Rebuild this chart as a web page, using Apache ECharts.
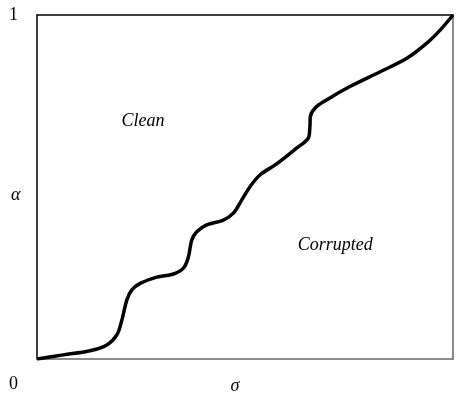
<!DOCTYPE html>
<html><head><meta charset="utf-8">
<script src="https://cdn.jsdelivr.net/npm/echarts@6/dist/echarts.min.js"></script>
<style>html,body{margin:0;padding:0;background:#fff}#c{width:457px;height:395px}</style>
</head><body><div id="c"></div>
<script>
var sigma = [0, 0.063, 0.127, 0.168, 0.192, 0.204, 0.216, 0.228, 0.248, 0.288, 0.328, 0.352, 0.364, 0.372, 0.384, 0.408, 0.448, 0.472, 0.492, 0.512, 0.536, 0.576, 0.624, 0.652, 0.656, 0.657, 0.668, 0.696, 0.752, 0.825, 0.889, 0.937, 0.969, 1];
var alpha = [0, 0.012, 0.024, 0.041, 0.070, 0.113, 0.172, 0.201, 0.220, 0.238, 0.247, 0.264, 0.297, 0.346, 0.370, 0.390, 0.404, 0.424, 0.462, 0.501, 0.535, 0.567, 0.613, 0.642, 0.675, 0.704, 0.729, 0.753, 0.792, 0.835, 0.874, 0.918, 0.956, 1];
var regionLabels = ['Clean', 'Corrupted'];
var regionPos = [[0.255, 0.69], [0.717, 0.33]];
var tickLabels = ['0', '1'];
var axisNames = ['σ', 'α'];

var chart = echarts.init(document.getElementById('c'));
var font = '"Liberation Serif", "DejaVu Serif", serif';
var pts = sigma.map(function (s, i) { return [s, alpha[i]]; });
function noAx(pos, color) {
  return { type: 'value', min: 0, max: 1, position: pos, axisLine: { show: true, onZero: false, lineStyle: { color: color, width: 1.5 } },
    axisTick: { show: false }, splitLine: { show: false }, axisLabel: { show: false } };
}
var xb = noAx('bottom', '#666');
xb.name = axisNames[0]; xb.nameLocation = 'middle'; xb.nameGap = 18;
xb.nameTextStyle = { fontFamily: font, fontSize: 18, fontStyle: 'italic', color: '#000', padding: [0, 20, 0, 0] };
var yl = noAx('left', '#000');
var option = {
  animation: false,
  grid: { left: 37, right: 4, top: 15, bottom: 36, containLabel: false, outerBoundsMode: 'none' },
  xAxis: [xb, noAx('top', '#000')],
  yAxis: [yl, noAx('right', '#666')],
  series: [{
    type: 'line', data: pts, smooth: 0.35, showSymbol: false, symbol: 'none',
    lineStyle: { color: '#000', width: 3.5 },
    markPoint: {
      symbol: 'rect', symbolSize: 1, itemStyle: { color: 'rgba(0,0,0,0)' },
      label: { show: true, position: 'inside', fontFamily: font, fontSize: 18, fontStyle: 'italic', color: '#000' },
      data: regionLabels.map(function (t, i) { return { coord: regionPos[i], value: t, label: { formatter: t } }; })
    }
  }],
  graphic: [
    { type: 'text', left: 9, top: 6, style: { text: tickLabels[1], font: '18px ' + font, fill: '#000' } },
    { type: 'text', left: 9, top: 375, style: { text: tickLabels[0], font: '18px ' + font, fill: '#000' } },
    { type: 'text', left: 11, top: 186, style: { text: axisNames[1], font: 'italic 18px ' + font, fill: '#000' } }
  ]
};
chart.setOption(option);
</script></body></html>
